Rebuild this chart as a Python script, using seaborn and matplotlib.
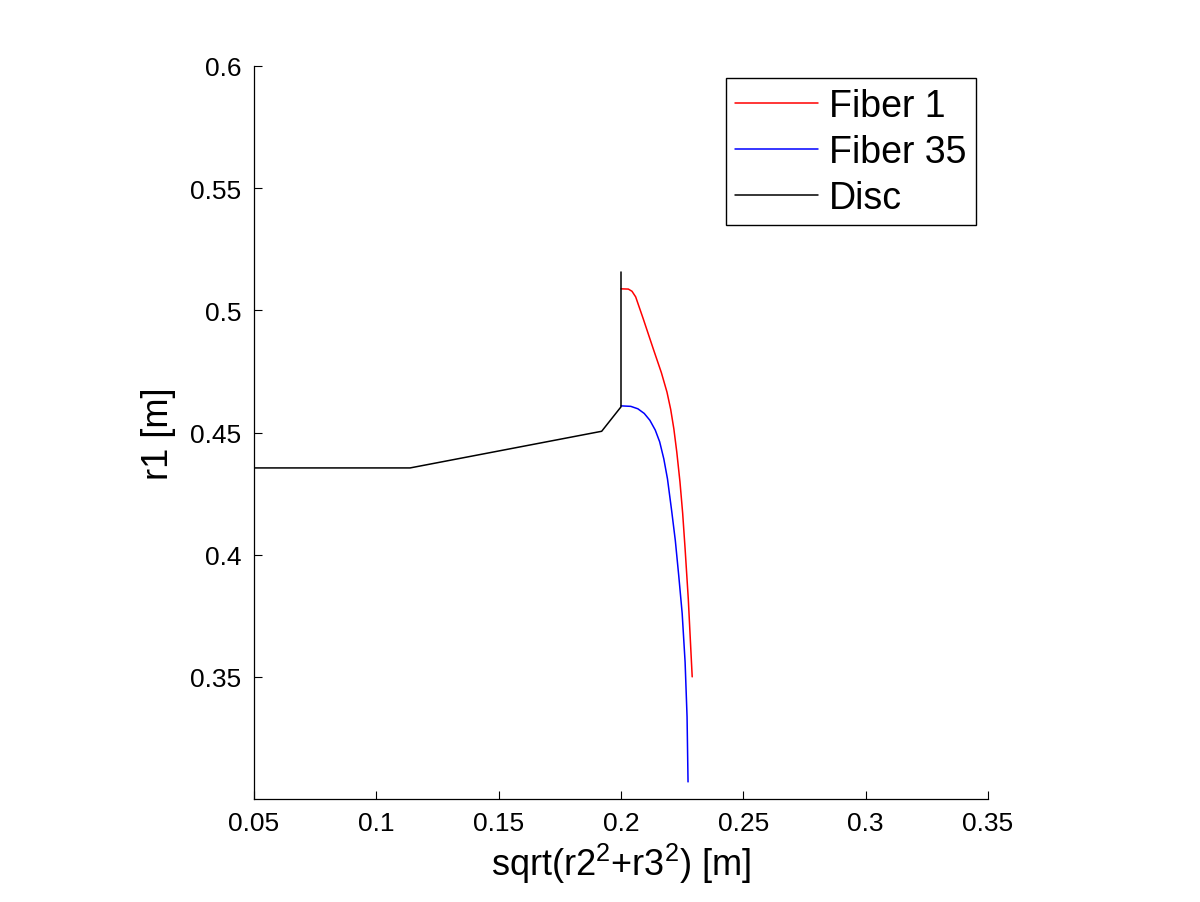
import numpy as np
import pandas as pd
import matplotlib
matplotlib.use('Agg')
import matplotlib.pyplot as plt
from matplotlib.ticker import FuncFormatter
import seaborn as sns

# curves
fiber1_x = [0.2000, 0.2030, 0.2045, 0.2060, 0.2091, 0.2132, 0.2165, 0.2188,
            0.2203, 0.2216, 0.2228, 0.2241, 0.2252, 0.2262, 0.2275, 0.2291]
fiber1_y = [0.5088, 0.5087, 0.5078, 0.5055, 0.4965, 0.4842, 0.4745, 0.4665,
            0.4595, 0.4515, 0.4420, 0.4298, 0.4170, 0.4024, 0.3819, 0.3500]

fiber35_x = [0.2000, 0.2040, 0.2069, 0.2095, 0.2118, 0.2140, 0.2158, 0.2175,
             0.2190, 0.2207, 0.2222, 0.2236, 0.2250, 0.2262, 0.2270, 0.2274]
fiber35_y = [0.4609, 0.4607, 0.4597, 0.4578, 0.4550, 0.4510, 0.4462, 0.4392,
             0.4310, 0.4180, 0.4058, 0.3914, 0.3760, 0.3560, 0.3336, 0.3070]

disc_x = [0.0500, 0.1138, 0.1921, 0.2000, 0.2000]
disc_y = [0.4355, 0.4355, 0.4505, 0.4605, 0.5157]

x_ticks = [0.05, 0.1, 0.15, 0.2, 0.25, 0.3, 0.35]
y_ticks = [0.35, 0.4, 0.45, 0.5, 0.55, 0.6]

df = pd.concat([
    pd.DataFrame({'x': fiber1_x, 'y': fiber1_y, 'curve': 'Fiber 1'}),
    pd.DataFrame({'x': fiber35_x, 'y': fiber35_y, 'curve': 'Fiber 35'}),
    pd.DataFrame({'x': disc_x, 'y': disc_y, 'curve': 'Disc'}),
], ignore_index=True)

sns.set_theme(style="ticks")
plt.rcParams['font.family'] = ['Liberation Sans', 'DejaVu Sans']
plt.rcParams['mathtext.default'] = 'regular'
plt.rcParams['text.color'] = 'black'
plt.rcParams['axes.labelcolor'] = 'black'

fig = plt.figure(figsize=(12, 9.03), dpi=100)
ax = fig.add_axes([254 / 1200, 103 / 903, 734 / 1200, 733 / 903])

sns.lineplot(data=df, x='x', y='y', hue='curve', sort=False, estimator=None,
             palette={'Fiber 1': '#ff0000', 'Fiber 35': '#0000ff', 'Disc': '#000000'},
             linewidth=1.1, ax=ax)

ax.set_xlim(0.05, 0.35)
ax.set_ylim(0.3, 0.6)
ax.set_xticks(x_ticks)
ax.set_yticks(y_ticks)
fmt = FuncFormatter(lambda v, p: '%g' % round(v, 3))
ax.xaxis.set_major_formatter(fmt)
ax.yaxis.set_major_formatter(fmt)
ax.tick_params(direction='in', length=6, width=0.8, labelsize=19, pad=9, colors='black')
sns.despine(ax=ax)
for s in ['left', 'bottom']:
    ax.spines[s].set_color('black')
    ax.spines[s].set_linewidth(0.9)

ax.set_xlabel(r'sqrt(r2$^2$+r3$^2$) [m]', fontsize=26, labelpad=4)
ax.set_ylabel('r1 [m]', fontsize=26, labelpad=10)

leg = ax.legend(loc='upper right', fontsize=27, frameon=True, fancybox=False,
                edgecolor='black', framealpha=1, handlelength=2.2,
                labelspacing=0.27, borderaxespad=0.33, borderpad=0.25,
                handletextpad=0.3, title=None)
leg.get_frame().set_linewidth(1.0)
for t in leg.get_texts():
    t.set_color('black')

fig.savefig('out.png', dpi=100, facecolor='white')
